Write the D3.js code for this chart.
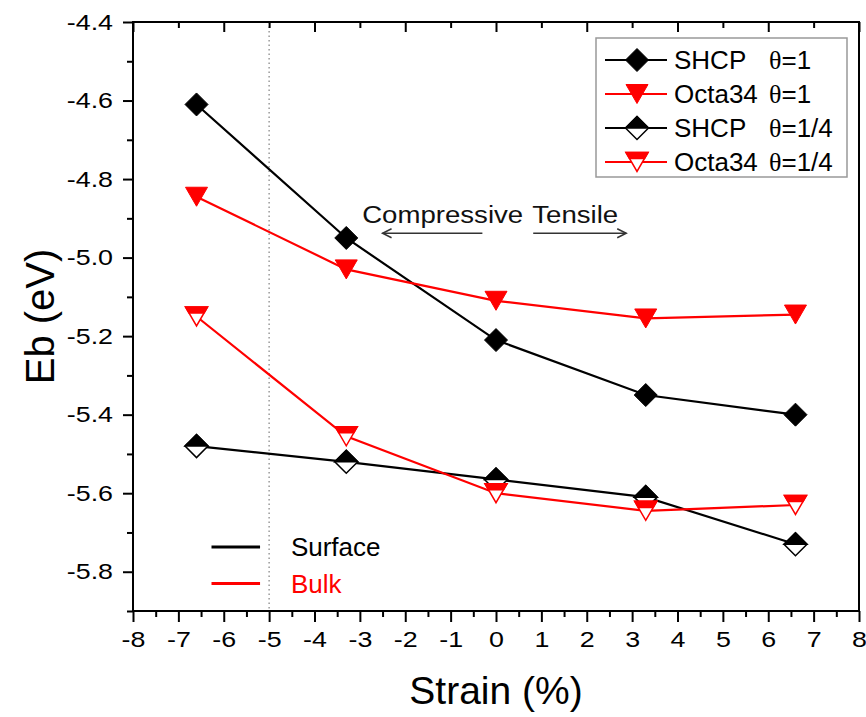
<!DOCTYPE html>
<html><head><meta charset="utf-8">
<script src="https://cdn.jsdelivr.net/npm/d3@7"></script>
<style>body{margin:0;background:#fff}svg{display:block}text{font-family:"Liberation Sans",Arial,sans-serif}</style>
</head><body>
<script>
const strain = [-6.6, -3.3, 0, 3.3, 6.6];
const shcp1 = [-4.61, -4.95, -5.21, -5.35, -5.40];
const octa1 = [-4.845, -5.03, -5.11, -5.155, -5.145];
const shcp14 = [-5.48, -5.52, -5.565, -5.61, -5.73];
const octa14 = [-5.15, -5.455, -5.60, -5.645, -5.63];
const xTicks = [-8,-7,-6,-5,-4,-3,-2,-1,0,1,2,3,4,5,6,7,8];
const yTicks = [-5.8,-5.6,-5.4,-5.2,-5.0,-4.8,-4.6,-4.4];
const legendLabels = [["SHCP","1"],["Octa34","1"],["SHCP","1/4"],["Octa34","1/4"]];

const W=866,H=717, L=133,R=859,T=22,B=611;
const svg=d3.select("body").append("svg").attr("width",W).attr("height",H);
const x=d3.scaleLinear().domain([-8,8]).range([L,R]);
const y=d3.scaleLinear().domain([-5.9,-4.4]).range([B,T]);

// dotted line at -5
svg.append("line").attr("x1",x(-5)).attr("x2",x(-5)).attr("y1",T).attr("y2",B)
  .attr("stroke","#999").attr("stroke-width",1.5).attr("stroke-dasharray","1.5,3");

// axes
const xMinor = d3.range(-15,16,2).map(d=>d/2);
const yMinor = d3.range(-59,-43,2).map(d=>d/10);
const gx=svg.append("g").attr("transform",`translate(0,${B})`)
  .call(d3.axisBottom(x).tickValues(xTicks).tickSize(11).tickPadding(9).tickFormat(d=>String(d)));
svg.append("g").attr("transform",`translate(0,${B})`)
  .call(d3.axisBottom(x).tickValues(xMinor).tickSize(6).tickFormat(""));
const gy=svg.append("g").attr("transform",`translate(${L},0)`)
  .call(d3.axisLeft(y).tickValues(yTicks).tickSize(10).tickPadding(10).tickFormat(d=>d.toFixed(1)));
svg.append("g").attr("transform",`translate(${L},0)`)
  .call(d3.axisLeft(y).tickValues(yMinor).tickSize(6).tickFormat(""));
// top inward ticks
svg.append("g").attr("transform",`translate(0,${T})`)
  .call(d3.axisBottom(x).tickValues(xTicks).tickSize(0).tickFormat(""))
  .selectAll(".tick line").attr("y2",d=>d%2===0?10:6);
svg.selectAll(".domain").remove();
svg.selectAll(".tick line").attr("stroke","#000").attr("stroke-width",2);
svg.selectAll(".tick text").attr("font-size",22).attr("fill","#000")
  .attr("font-family","Liberation Sans, Arial, sans-serif")
  .each(function(){
    const t=d3.select(this); const x0=+t.attr("x")||0;
    t.attr("x",0).attr("transform",`translate(${x0},0) scale(1.22,1)`);
  });
svg.append("rect").attr("x",L).attr("y",T).attr("width",R-L).attr("height",B-T)
  .attr("fill","none").attr("stroke","#000").attr("stroke-width",2);

// titles
svg.append("text").attr("x",x(0)).attr("y",704).attr("text-anchor","middle")
  .attr("font-size",39).text("Strain (%)");
svg.append("text").attr("transform",`translate(54,${(T+B)/2}) rotate(-90)`).attr("text-anchor","middle")
  .attr("font-size",40).text("Eb (eV)");

// markers
const DR=11.5, TW=11, TH=9.5;
function diamond(g,cx,cy,half){
  if(half){
    g.append("path").attr("d",`M${cx-DR},${cy}L${cx},${cy-DR}L${cx+DR},${cy}L${cx},${cy+DR}Z`).attr("fill","#fff").attr("stroke","#000").attr("stroke-width",1.5);
    g.append("path").attr("d",`M${cx-DR},${cy}L${cx},${cy-DR}L${cx+DR},${cy}Z`).attr("fill","#000").attr("stroke","#000").attr("stroke-width",1.5);
  } else {
    g.append("path").attr("d",`M${cx-DR},${cy}L${cx},${cy-DR}L${cx+DR},${cy}L${cx},${cy+DR}Z`).attr("fill","#000").attr("stroke","#000").attr("stroke-width",1);
  }
}
function tri(g,cx,cy,half){
  const c="#ff0000";
  if(half){
    g.append("path").attr("d",`M${cx-TW},${cy-TH}L${cx+TW},${cy-TH}L${cx},${cy+TH}Z`).attr("fill","#fff").attr("stroke",c).attr("stroke-width",1.5);
    const f=0.32, yb=cy-TH+2*TH*f, hw=TW*(1-f);
    g.append("path").attr("d",`M${cx-TW},${cy-TH}L${cx+TW},${cy-TH}L${cx+hw},${yb}L${cx-hw},${yb}Z`).attr("fill",c).attr("stroke",c).attr("stroke-width",1.5);
  } else {
    g.append("path").attr("d",`M${cx-TW},${cy-TH}L${cx+TW},${cy-TH}L${cx},${cy+TH}Z`).attr("fill",c).attr("stroke",c).attr("stroke-width",1);
  }
}

const series=[
  {v:shcp1,color:"#000",m:diamond,half:false},
  {v:octa1,color:"#ff0000",m:tri,half:false},
  {v:shcp14,color:"#000",m:diamond,half:true},
  {v:octa14,color:"#ff0000",m:tri,half:true}
];
const line=d3.line().x(d=>x(d[0])).y(d=>y(d[1]));
series.forEach(s=>{
  svg.append("path").attr("d",line(strain.map((d,i)=>[d,s.v[i]]))).attr("fill","none")
    .attr("stroke",s.color).attr("stroke-width",2.2);
});
series.forEach(s=>{
  const g=svg.append("g");
  strain.forEach((d,i)=>s.m(g,x(d),y(s.v[i]),s.half));
});

// annotations
function stretched(tx,ty,size,sx,txt,fill){
  svg.append("text").attr("transform",`translate(${tx},${ty}) scale(${sx},1)`)
    .attr("font-size",size).attr("fill",fill).text(txt);
}
stretched(x(-2.95),y(-4.912),24,1.15,"Compressive","#111");
stretched(x(0.8),y(-4.912),24,1.15,"Tensile","#111");
function arrow(x1,x2,yy){
  const a=x(x1),b=x(x2),yv=y(yy),dir=Math.sign(b-a);
  svg.append("line").attr("x1",a).attr("x2",b).attr("y1",yv).attr("y2",yv).attr("stroke","#333").attr("stroke-width",1.5);
  svg.append("path").attr("d",`M${b-dir*9},${yv-4.5}L${b},${yv}L${b-dir*9},${yv+4.5}`).attr("fill","none").attr("stroke","#333").attr("stroke-width",1.5);
}
arrow(-0.3,-2.5,-4.938);
arrow(0.82,2.87,-4.938);

// surface / bulk legend
[["Surface","#000",-5.737],["Bulk","#ff0000",-5.83]].forEach(([t,c,yy])=>{
  svg.append("line").attr("x1",x(-6.27)).attr("x2",x(-5.2)).attr("y1",y(yy)).attr("y2",y(yy)).attr("stroke",c).attr("stroke-width",3);
  svg.append("text").attr("x",x(-4.52)).attr("y",y(yy)).attr("dy","0.36em").attr("font-size",26).attr("fill",c).text(t);
});

// legend box
const lg=svg.append("g");
lg.append("rect").attr("x",596).attr("y",38).attr("width",251).attr("height",139).attr("fill","#fff").attr("stroke","#999").attr("stroke-width",1.5);
const ly=[60,94,128,162];
series.forEach((s,i)=>{
  lg.append("line").attr("x1",605).attr("x2",667).attr("y1",ly[i]).attr("y2",ly[i]).attr("stroke",s.color).attr("stroke-width",2);
  s.m(lg,637,ly[i],s.half);
  lg.append("text").attr("x",674).attr("y",ly[i]).attr("dy","0.36em").attr("font-size",26).text(legendLabels[i][0]);
  const t=lg.append("text").attr("x",769).attr("y",ly[i]).attr("dy","0.36em").attr("font-size",26);
  t.append("tspan").attr("font-family","Liberation Serif, serif").text("θ");
  t.append("tspan").text("="+legendLabels[i][1]);
});
</script>
</body></html>
